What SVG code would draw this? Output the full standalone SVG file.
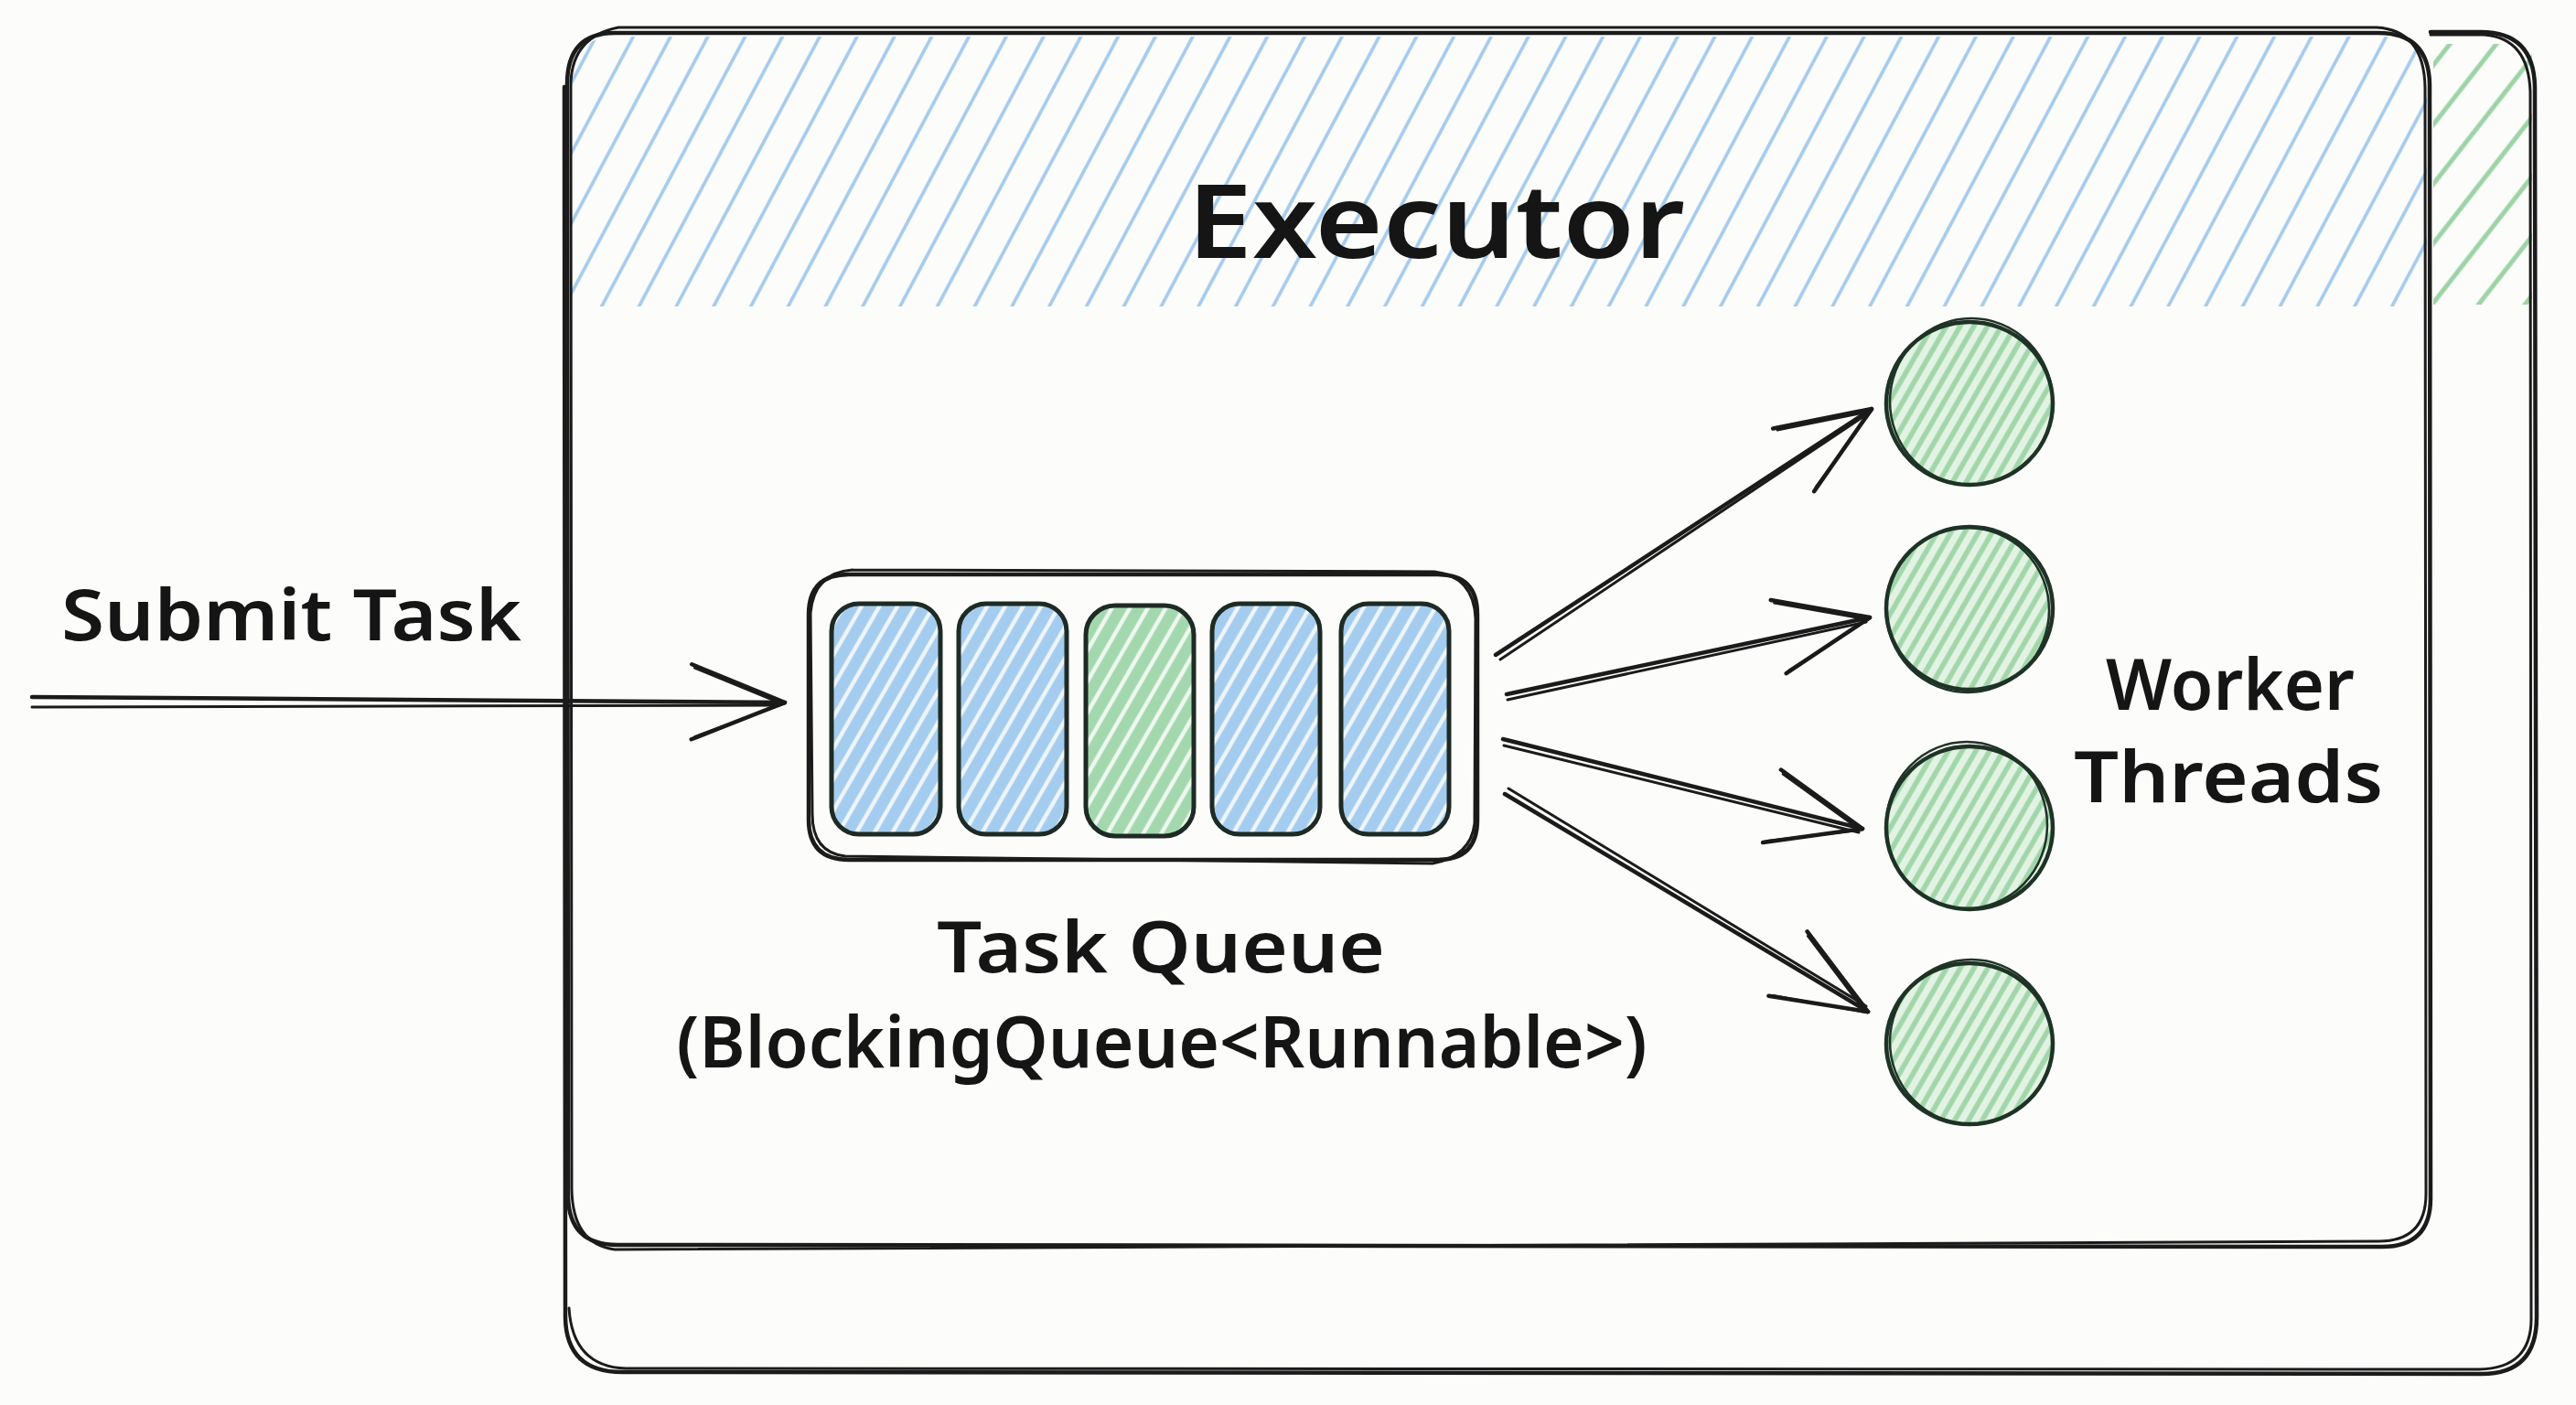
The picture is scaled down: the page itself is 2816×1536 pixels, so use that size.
<svg xmlns="http://www.w3.org/2000/svg" width="2816" height="1536" viewBox="0 0 2816 1536">
<style>
.ink{fill:none;stroke:#1b1b1b;stroke-width:4.5;stroke-linecap:round;stroke-linejoin:round}
.thin{fill:none;stroke:#1b1b1b;stroke-width:3;stroke-linecap:round;stroke-linejoin:round}
.cell{stroke:#1e2a24;stroke-width:5;stroke-linejoin:round}
.circ{stroke:#1e3326;stroke-width:4.5}
.lbl{font-family:"Noto Sans","DejaVu Sans",sans-serif;font-weight:600;fill:#151515}
</style>
<defs>
<pattern id="hBlue" patternUnits="userSpaceOnUse" width="36" height="36" patternTransform="rotate(28)">
<line x1="18" y1="0" x2="18" y2="36" stroke="#a3caed" stroke-width="3.6"/>
</pattern>
<pattern id="hGreenStrip" patternUnits="userSpaceOnUse" width="40" height="40" patternTransform="rotate(38)">
<line x1="20" y1="0" x2="20" y2="40" stroke="#9cd3a6" stroke-width="5"/>
</pattern>
<pattern id="cBlue" patternUnits="userSpaceOnUse" width="17" height="17" patternTransform="rotate(30)">
<rect width="17" height="17" fill="#a4ccee"/>
<line x1="8" y1="0" x2="8" y2="17" stroke="#eef5fb" stroke-width="4.5"/>
</pattern>
<pattern id="cGreen" patternUnits="userSpaceOnUse" width="17" height="17" patternTransform="rotate(30)">
<rect width="17" height="17" fill="#a3d8ae"/>
<line x1="8" y1="0" x2="8" y2="17" stroke="#eef8ef" stroke-width="4.5"/>
</pattern>
<pattern id="cirG" patternUnits="userSpaceOnUse" width="13" height="13" patternTransform="rotate(30)">
<rect width="13" height="13" fill="#e2f2e3"/>
<line x1="6" y1="0" x2="6" y2="13" stroke="#a0d6a9" stroke-width="5.5"/>
</pattern>
<clipPath id="hdrClip">
<path d="M624 90 Q624 40 674 40 L2605 40 Q2653 40 2653 90 L2653 335 L624 335 Z"/>
</clipPath>
<marker id="ah" markerUnits="userSpaceOnUse" markerWidth="140" markerHeight="120" refX="120" refY="60" orient="auto" viewBox="0 0 140 120" overflow="visible">
<path d="M18 19 L120 60 L18 101" fill="none" stroke="#1b1b1b" stroke-width="4.5" stroke-linecap="round" stroke-linejoin="round"/>
<path d="M21 23 L118 62 L22 98" fill="none" stroke="#1b1b1b" stroke-width="2.5" stroke-linecap="round"/>
</marker>
</defs>
<rect width="2816" height="1536" fill="#fcfcfb"/>

<g id="outer-frame">
<rect x="2660" y="48" width="108" height="285" fill="url(#hGreenStrip)"/>
<path class="ink" d="M2657 35 L2712 35 Q2770 35 2771 95 L2773 1440 Q2773 1502 2713 1502 L680 1500 Q619 1500 618 1440 L617 95"/>
<path class="thin" d="M2657 38 L2716 38 Q2764 42 2766 100 L2767 1440 Q2768 1496 2710 1497 L684 1496 Q626 1494 622 1430"/>
</g>

<g id="executor">
<rect x="624" y="40" width="2030" height="295" fill="url(#hBlue)" clip-path="url(#hdrClip)"/>
<path class="ink" d="M672 36 L2600 36 Q2655 36 2656 92 L2657 1310 Q2657 1363 2604 1363 L675 1361 Q622 1361 621 1308 L620 92 Q620 36 672 36 Z"/>
<path class="thin" d="M676 30 L2598 30 Q2650 33 2651 96 L2652 1305 Q2652 1357 2600 1357 L672 1366 Q626 1360 625 1300 L624 90 Q626 40 676 30"/>
<text class="lbl" x="1570" y="282" font-size="112" text-anchor="middle" textLength="544" lengthAdjust="spacingAndGlyphs">Executor</text>
</g>

<g id="submit-label">
<text class="lbl" x="67" y="700" font-size="78" textLength="503" lengthAdjust="spacingAndGlyphs">Submit Task</text>
</g>

<g id="task-queue">
<path class="ink" d="M928 628 L1572 628 Q1615 628 1615 672 L1615 896 Q1615 940 1572 940 L928 940 Q884 940 884 896 L884 672 Q884 628 928 628 Z" fill="#fcfcfb"/>
<path class="thin" d="M932 623 L1568 625 Q1611 630 1613 676 L1612 900 Q1608 936 1566 944 L924 936 Q888 932 888 890 L886 670 Q890 626 932 623"/>
<rect class="cell" x="909" y="660" width="119" height="252" rx="30" fill="url(#cBlue)"/>
<rect class="cell" x="1048" y="660" width="118" height="252" rx="30" fill="url(#cBlue)"/>
<rect class="cell" x="1187" y="662" width="118" height="252" rx="32" fill="url(#cGreen)"/>
<rect class="cell" x="1325" y="660" width="118" height="252" rx="30" fill="url(#cBlue)"/>
<rect class="cell" x="1466" y="660" width="118" height="252" rx="30" fill="url(#cBlue)"/>
<text class="lbl" x="1269" y="1063" font-size="78" text-anchor="middle" textLength="490" lengthAdjust="spacingAndGlyphs">Task Queue</text>
<text class="lbl" x="1270" y="1167" font-size="78" text-anchor="middle" textLength="1061" lengthAdjust="spacingAndGlyphs">(BlockingQueue&lt;Runnable&gt;)</text>
</g>

<g id="worker-1">
<ellipse class="circ" cx="2153" cy="441" rx="91" ry="89" fill="url(#cirG)"/>
<ellipse cx="2155" cy="439" rx="89" ry="91" fill="none" stroke="#1e3326" stroke-width="2.5"/>
</g>
<g id="worker-2">
<ellipse class="circ" cx="2153" cy="665" rx="91" ry="89" fill="url(#cirG)"/>
<ellipse cx="2151" cy="667" rx="89" ry="90" fill="none" stroke="#1e3326" stroke-width="2.5"/>
</g>
<g id="worker-3">
<ellipse class="circ" cx="2153" cy="905" rx="91" ry="89" fill="url(#cirG)"/>
<ellipse cx="2150" cy="902" rx="88" ry="91" fill="none" stroke="#1e3326" stroke-width="2.5"/>
</g>
<g id="worker-4">
<ellipse class="circ" cx="2153" cy="1141" rx="91" ry="88" fill="url(#cirG)"/>
<ellipse cx="2155" cy="1139" rx="89" ry="90" fill="none" stroke="#1e3326" stroke-width="2.5"/>
</g>
<g id="worker-label">
<text class="lbl" x="2438" y="776" font-size="78" text-anchor="middle" textLength="272" lengthAdjust="spacingAndGlyphs">Worker</text>
<text class="lbl" x="2436" y="877" font-size="78" text-anchor="middle" textLength="338" lengthAdjust="spacingAndGlyphs">Threads</text>
</g>

<g id="connectors">
<path class="ink" d="M35 762 L858 768" marker-end="url(#ah)"/>
<path class="thin" d="M35 773 L852 771"/>
<path class="ink" d="M1635 716 L2046 447" marker-end="url(#ah)"/>
<path class="thin" d="M1640 721 L2042 452"/>
<path class="ink" d="M1647 759 L2044 675" marker-end="url(#ah)"/>
<path class="thin" d="M1648 765 L2040 680"/>
<path class="ink" d="M1643 808 L2036 906" marker-end="url(#ah)"/>
<path class="thin" d="M1644 815 L2032 910"/>
<path class="ink" d="M1645 868 L2042 1106" marker-end="url(#ah)"/>
<path class="thin" d="M1649 862 L2040 1100"/>
</g>
</svg>
